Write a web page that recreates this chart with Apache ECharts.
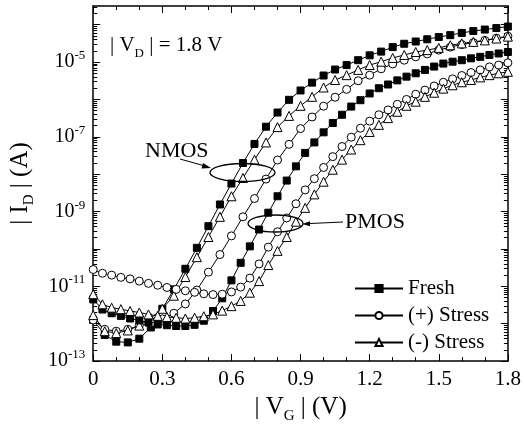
<!DOCTYPE html>
<html>
<head>
<meta charset="utf-8">
<script src="https://cdn.jsdelivr.net/npm/echarts@6.0.0/dist/echarts.min.js"></script>
<style>
html,body{margin:0;padding:0;background:#fff;}
#main{width:524px;height:429px;}
</style>
</head>
<body>
<div id="main"></div>
<script>
// gate voltage |VG| (V); NMOS sampled every 0.05 V, PMOS every 0.04 V
var nmosV = [0,0.05,0.1,0.15,0.2,0.25,0.3,0.35,0.4,0.45,0.5,0.55,0.6,0.65,0.7,0.75,0.8,0.85,0.9,0.95,
    1.0,1.05,1.1,1.15,1.2,1.25,1.3,1.35,1.4,1.45,1.5,1.55,1.6,1.65,1.7,1.75,1.8];
var pmosV = [0,0.04,0.08,0.12,0.16,0.2,0.24,0.28,0.32,0.36,0.4,0.44,0.48,0.52,0.56,0.6,0.64,0.68,0.72,0.76,
    0.8,0.84,0.88,0.92,0.96,1.0,1.04,1.08,1.12,1.16,1.2,1.24,1.28,1.32,1.36,1.4,1.44,1.48,1.52,1.56,
    1.6,1.64,1.68,1.72,1.76,1.8];

// log10 |ID| (A)
var nFresh = [-11.9,-12.3,-12.48,-12.5,-12.4,-12.1,-11.6,-11.08,-10.53,-9.97,-9.39,-8.81,-8.25,-7.7,-7.19,-6.73,
    -6.35,-6.01,-5.76,-5.55,-5.36,-5.2,-5.08,-4.95,-4.82,-4.72,-4.6,-4.51,-4.45,-4.39,-4.33,-4.28,-4.22,-4.17,
    -4.13,-4.09,-4.05];
var nPlus = [-11.9,-12.15,-12.2,-12.15,-12.05,-11.98,-11.87,-11.72,-11.47,-11.1,-10.62,-10.15,-9.65,-9.14,-8.65,
    -8.13,-7.62,-7.2,-6.78,-6.47,-6.18,-5.94,-5.73,-5.5,-5.35,-5.18,-5.05,-4.95,-4.86,-4.78,-4.68,-4.6,-4.53,
    -4.48,-4.42,-4.36,-4.31];
var nMinus = [-11.77,-12.2,-12.25,-12.18,-12.05,-11.85,-11.6,-11.25,-10.75,-10.22,-9.68,-9.14,-8.59,-8.1,-7.61,
    -7.15,-6.74,-6.44,-6.17,-5.93,-5.68,-5.48,-5.35,-5.21,-5.08,-4.99,-4.89,-4.81,-4.73,-4.68,-4.62,-4.55,-4.5,
    -4.46,-4.42,-4.37,-4.32];
var pFresh = [-11.35,-11.62,-11.72,-11.79,-11.86,-11.91,-11.97,-12.02,-12.04,-12.06,-12.06,-12.03,-11.92,-11.66,
    -11.32,-10.84,-10.37,-9.93,-9.48,-9.03,-8.59,-8.17,-7.79,-7.43,-7.15,-6.88,-6.63,-6.41,-6.19,-6.02,-5.84,
    -5.7,-5.6,-5.49,-5.39,-5.3,-5.21,-5.12,-5.04,-4.99,-4.95,-4.9,-4.86,-4.81,-4.77,-4.73];
var pPlus = [-10.55,-10.65,-10.7,-10.76,-10.8,-10.86,-10.92,-10.97,-11.03,-11.08,-11.12,-11.16,-11.2,-11.22,
    -11.21,-11.15,-11.02,-10.78,-10.4,-9.95,-9.54,-9.17,-8.79,-8.42,-8.12,-7.82,-7.53,-7.26,-7.01,-6.77,-6.58,
    -6.41,-6.28,-6.13,-6.0,-5.86,-5.75,-5.64,-5.54,-5.45,-5.36,-5.28,-5.21,-5.13,-5.08,-5.02];
var pMinus = [-11.21,-11.48,-11.57,-11.61,-11.66,-11.7,-11.75,-11.79,-11.82,-11.84,-11.86,-11.84,-11.8,-11.75,
    -11.65,-11.53,-11.39,-11.17,-10.86,-10.43,-10.05,-9.68,-9.27,-8.9,-8.54,-8.2,-7.88,-7.61,-7.34,-7.09,-6.87,
    -6.68,-6.5,-6.33,-6.17,-6.06,-5.93,-5.82,-5.71,-5.62,-5.54,-5.48,-5.41,-5.35,-5.3,-5.26];

var legendNames = ['Fresh', '(+) Stress', '(-) Stress'];
var yMajor = [-13,-12,-11,-10,-9,-8,-7,-6,-5,-4];
var yLabels = [-13,-11,-9,-7,-5];

var font = 'Liberation Serif';
var yMin = -13, yMax = -3.5;

var yMinor = [];
for (var n = -13; n < -3; n++) {
    for (var k = 2; k <= 9; k++) {
        var t = n + Math.log10(k);
        if (t < yMax) yMinor.push(t);
    }
}

function pairs(xs, ys) {
    return xs.map(function (x, i) { return [x, ys[i]]; });
}

function makeSeries(name, symbol, size, filled, xs, ys) {
    return {
        name: name,
        type: 'line',
        data: pairs(xs, ys),
        symbol: symbol,
        symbolSize: size,
        showAllSymbol: true,
        animation: false,
        lineStyle: {color: '#000', width: 1},
        itemStyle: {color: filled ? '#000' : '#fff', borderColor: '#000', borderWidth: 1},
        emphasis: {disabled: true}
    };
}

function yAxisDef(pos, ticks, len, extra) {
    var a = {
        type: 'value', position: pos, min: yMin, max: yMax, interval: 1,
        axisLine: {show: false},
        axisTick: {show: true, inside: true, length: len, customValues: ticks,
            lineStyle: {color: '#000', width: 1}},
        axisLabel: {show: false},
        splitLine: {show: false}
    };
    for (var key in extra) a[key] = extra[key];
    return a;
}

var chart = echarts.init(document.getElementById('main'));

var option = {
    backgroundColor: '#fff',
    animation: false,
    grid: {left: 88, right: 16, top: 6, bottom: 67},
    legend: {
        orient: 'vertical', left: 349, top: 273,
        data: legendNames, selectedMode: false,
        itemWidth: 48, itemHeight: 9, itemGap: 6,
        textStyle: {fontFamily: font, fontSize: 21, color: '#000', lineHeight: 20}
    },
    xAxis: [{
        type: 'value', position: 'bottom', min: 0, max: 1.8, interval: 0.3,
        axisLine: {lineStyle: {color: '#000', width: 1.5}},
        axisTick: {inside: true, length: 7, lineStyle: {color: '#000', width: 1}},
        minorTick: {show: true, splitNumber: 3, length: 4, lineStyle: {color: '#000', width: 1}},
        splitLine: {show: false},
        minorSplitLine: {show: false},
        axisLabel: {
            fontFamily: font, fontSize: 21, color: '#000', margin: 8,
            formatter: function (v) { return v === 0 ? '0' : v.toFixed(1); }
        },
        name: '{m|| V}{s|G}{m| | (V)}',
        nameLocation: 'middle', nameGap: 31,
        nameTextStyle: {
            fontFamily: font, fontSize: 25, color: '#000',
            rich: {
                m: {fontFamily: font, fontSize: 25, color: '#000', padding: [0, 0, 4, 0]},
                s: {fontFamily: font, fontSize: 15, color: '#000', verticalAlign: 'bottom'}
            }
        }
    }, {
        type: 'value', position: 'top', min: 0, max: 1.8, interval: 0.3,
        axisLine: {lineStyle: {color: '#000', width: 1.5}},
        axisTick: {inside: true, length: 7, lineStyle: {color: '#000', width: 1}},
        minorTick: {show: true, splitNumber: 3, length: 4, lineStyle: {color: '#000', width: 1}},
        splitLine: {show: false},
        axisLabel: {show: false}
    }],
    yAxis: [
        yAxisDef('left', yMajor, 7, {
            axisLine: {show: true, lineStyle: {color: '#000', width: 1.5}},
            axisLabel: {
                show: true, customValues: yLabels, margin: 8,
                formatter: function (v) { return '{b|10}{p|' + Math.round(v) + '}'; },
                rich: {
                    b: {fontFamily: font, fontSize: 20, color: '#000', lineHeight: 26},
                    p: {fontFamily: font, fontSize: 13, color: '#000', verticalAlign: 'top'}
                }
            },
            name: '{m|| I}{s|D}{m| | (A)}',
            nameLocation: 'middle', nameGap: 52, nameRotate: 90,
            nameTextStyle: {
                fontFamily: font, fontSize: 25, color: '#000',
                rich: {
                    m: {fontFamily: font, fontSize: 25, color: '#000', padding: [0, 0, 4, 0]},
                    s: {fontFamily: font, fontSize: 15, color: '#000', verticalAlign: 'bottom'}
                }
            }
        }),
        yAxisDef('left', yMinor, 4, {}),
        yAxisDef('right', yMajor, 7, {axisLine: {show: true, lineStyle: {color: '#000', width: 1.5}}}),
        yAxisDef('right', yMinor, 4, {})
    ],
    graphic: [
        {
            type: 'text', left: 110, top: 35,
            style: {
                text: '{m|| V}{s|D}{m| | = 1.8 V}',
                fill: '#000',
                rich: {
                    m: {fontFamily: font, fontSize: 21, fill: '#000', padding: [0, 0, 4, 0]},
                    s: {fontFamily: font, fontSize: 13, fill: '#000', verticalAlign: 'bottom'}
                }
            }
        },
        {type: 'text', left: 145, top: 140, style: {text: 'NMOS', font: '22px "Liberation Serif"', fill: '#000'}},
        {type: 'text', left: 345, top: 211, style: {text: 'PMOS', font: '22px "Liberation Serif"', fill: '#000'}},
        {type: 'ellipse', shape: {cx: 242.5, cy: 172.5, rx: 32.5, ry: 9}, style: {fill: 'none', stroke: '#000', lineWidth: 1.3}, z: 100},
        {type: 'ellipse', shape: {cx: 275.5, cy: 223.5, rx: 27.5, ry: 8.5}, style: {fill: 'none', stroke: '#000', lineWidth: 1.3}, z: 100},
        {type: 'line', shape: {x1: 180, y1: 159, x2: 205, y2: 166}, style: {stroke: '#000', lineWidth: 1}, z: 100},
        {type: 'polygon', shape: {points: [[211, 168], [203, 163], [201.5, 168.5]]}, style: {fill: '#000'}, z: 100},
        {type: 'line', shape: {x1: 343, y1: 222, x2: 308, y2: 223.6}, style: {stroke: '#000', lineWidth: 1}, z: 100},
        {type: 'polygon', shape: {points: [[302, 224], [310, 221.3], [310, 226.3]]}, style: {fill: '#000'}, z: 100}
    ],
    series: [
        makeSeries('Fresh', 'rect', 7, true, nmosV, nFresh),
        makeSeries('(+) Stress', 'circle', 8, false, nmosV, nPlus),
        makeSeries('(-) Stress', 'triangle', 9, false, nmosV, nMinus),
        makeSeries('Fresh', 'rect', 7, true, pmosV, pFresh),
        makeSeries('(+) Stress', 'circle', 8, false, pmosV, pPlus),
        makeSeries('(-) Stress', 'triangle', 9, false, pmosV, pMinus)
    ]
};
chart.setOption(option);
</script>
</body>
</html>
